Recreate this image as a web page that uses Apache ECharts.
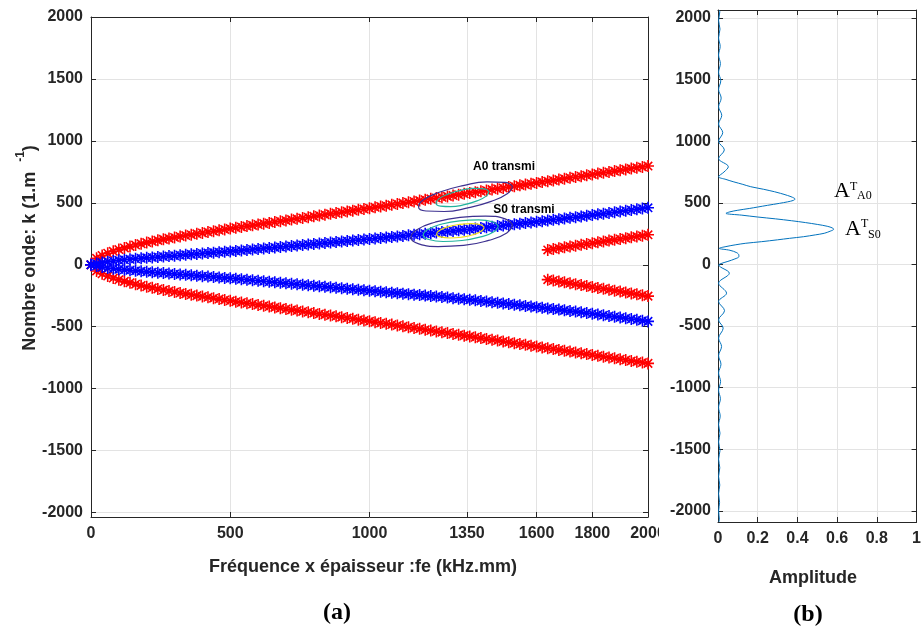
<!DOCTYPE html>
<html><head><meta charset="utf-8">
<script src="https://cdn.jsdelivr.net/npm/echarts@6/dist/echarts.min.js"></script>
<style>html,body{margin:0;padding:0;background:#fff}#c{width:924px;height:632px}</style>
</head><body><div id="c"></div>
<script>
// ---- data ----
const fx = [0,20,40,60,80,100,120,140,160,180,200,220,240,260,280,300,320,340,360,380,400,420,440,460,480,500,
520,540,560,580,600,620,640,660,680,700,720,740,760,780,800,820,840,860,880,900,920,940,960,980,1000,
1020,1040,1060,1080,1100,1120,1140,1160,1180,1200,1220,1240,1260,1280,1300,1320,1340,1360,1380,1400,1420,1440,1460,1480,1500,
1520,1540,1560,1580,1600,1620,1640,1660,1680,1700,1720,1740,1760,1780,1800,1820,1840,1860,1880,1900,1920,1940,1960,1980,2000];
const a0Up = [0,52,75,93,109,123,136,148,159,169,179,188,197,205,213,221,229,236,243,250,257,264,271,278,285,292,
299,305,312,318,325,332,338,345,351,358,365,371,378,384,391,398,404,411,417,424,431,437,444,450,457,
464,471,477,484,491,498,505,511,518,525,532,539,545,552,559,566,573,579,586,593,600,607,613,620,627,
634,641,647,654,661,668,675,681,688,695,702,709,715,722,729,736,743,749,756,763,770,777,783,790,797];
const a0Dn = [0,-50,-73,-91,-107,-121,-134,-146,-157,-167,-177,-186,-195,-204,-212,-220,-228,-235,-242,-249,-256,-263,-270,-277,-284,-291,
-298,-304,-311,-317,-324,-331,-337,-344,-350,-357,-364,-370,-377,-383,-390,-397,-403,-410,-416,-423,-430,-436,-443,-449,-456,
-463,-470,-476,-483,-490,-497,-504,-510,-517,-524,-531,-538,-544,-551,-558,-565,-572,-578,-585,-592,-599,-606,-612,-619,-626,
-633,-640,-646,-653,-660,-667,-674,-680,-687,-694,-701,-708,-714,-721,-728,-735,-742,-748,-755,-762,-769,-776,-782,-789,-796];
const s0Up = [0,10,18,25,31,36,40,44,48,52,56,59,63,66,70,73,77,80,84,87,91,94,98,101,105,108,
112,116,120,124,128,132,136,140,144,148,152,156,160,164,168,172,176,180,184,188,192,196,200,204,208,
212,216,220,225,229,233,238,242,246,251,255,260,264,269,273,278,283,287,292,297,302,307,312,317,322,
327,332,337,342,347,352,358,363,368,374,379,384,390,395,401,407,412,418,424,430,436,442,448,454,460];
const s0Dn = [0,-10,-19,-26,-32,-37,-41,-45,-49,-53,-57,-60,-64,-67,-71,-74,-78,-81,-85,-88,-92,-95,-99,-102,-106,-109,
-113,-117,-121,-125,-129,-133,-137,-141,-145,-149,-153,-157,-161,-165,-169,-173,-177,-181,-185,-189,-193,-197,-201,-205,-209,
-213,-217,-221,-225,-229,-233,-237,-241,-245,-249,-253,-257,-261,-265,-270,-274,-278,-283,-287,-292,-297,-302,-307,-312,-317,
-322,-327,-332,-337,-342,-347,-352,-357,-362,-368,-373,-378,-384,-390,-395,-401,-407,-413,-419,-425,-432,-438,-444,-451,-457];
const fxSeg = [1640,1660,1680,1700,1720,1740,1760,1780,1800,1820,1840,1860,1880,1900,1920,1940,1960,1980,2000];
const segUp = [120,127,134,141,147,154,161,168,174,181,188,195,201,208,215,222,228,235,242];
const segDn = [-120,-127,-135,-142,-150,-157,-164,-172,-179,-187,-194,-201,-209,-216,-223,-231,-238,-246,-253];

// contour lines (fe, k)
const cA0outer = [[1514,631],[1496,575],[1437,512],[1353,459],[1268,430],[1203,434],[1176,468],[1194,524],[1253,587],[1336,639],[1422,669],[1487,665]];
const cA0inner = [[1429,590],[1419,554],[1386,516],[1340,485],[1291,469],[1255,473],[1239,496],[1249,532],[1282,570],[1328,601],[1377,617],[1414,613]];
const cS0outer = [[1514,320],[1493,257],[1428,197],[1338,156],[1246,147],[1177,169],[1149,220],[1170,283],[1235,343],[1325,383],[1417,393],[1487,370]];
const cS0mid = [[1463,312],[1447,267],[1399,225],[1332,196],[1264,188],[1213,204],[1193,239],[1209,284],[1257,327],[1324,355],[1392,362],[1442,347]];
const cS0inner = [[1412,301],[1402,272],[1372,242],[1330,222],[1287,216],[1255,225],[1241,247],[1251,276],[1281,306],[1324,326],[1367,332],[1399,323]];

// amplitude profile (k, amplitude)
const ampK = [2065,2050,1980,1910,1840,1770,1700,1630,1560,1490,1420,1350,1280,1210,1140,1070,1000,930,860,793,750,712,690,670,650,631,610,590,577,560,545,531,520,508,496,480,466,455,440,427,415,400,385,370,355,340,325,310,295,285,270,253,240,225,212,200,185,172,160,145,131,115,95,75,63,45,25,10,-4,-71,-152,-233,-301,-375,-450,-517,-598,-666,-740,-810,-880,-950,-1020,-1090,-1160,-1230,-1300,-1370,-1440,-1510,-1580,-1650,-1720,-1790,-1860,-1930,-2000,-2070,-2090];
const ampVal = [0.006,0.009,0.003,0.010,0.003,0.011,0.003,0.012,0.003,0.014,0.003,0.016,0.003,0.019,0.003,0.024,0.003,0.032,0.003,0.052,0.030,0.003,0.040,0.080,0.125,0.165,0.230,0.285,0.315,0.350,0.375,0.388,0.380,0.350,0.310,0.250,0.200,0.160,0.100,0.060,0.040,0.120,0.200,0.290,0.370,0.440,0.500,0.550,0.578,0.582,0.565,0.535,0.490,0.430,0.360,0.300,0.220,0.140,0.090,0.040,0.006,0.060,0.095,0.105,0.105,0.085,0.050,0.020,0.004,0.057,0.003,0.043,0.003,0.033,0.003,0.026,0.003,0.018,0.003,0.015,0.003,0.013,0.003,0.012,0.003,0.011,0.003,0.010,0.003,0.010,0.003,0.009,0.003,0.009,0.003,0.008,0.003,0.007,0.004];

const xTicksA = [0,500,1000,1350,1600,1800,2000];
const yTicks = [-2000,-1500,-1000,-500,0,500,1000,1500,2000];

// ---- chart ----
const ink = '#262626';
const sans = 'Liberation Sans';
const star = 'path://M10,0L10,20M0,10L20,10M3,3L17,17M3,17L17,3';
const lbl = {color: ink, fontSize: 16, fontWeight: 'bold', fontFamily: sans, formatter: v => String(v)};
const grid = {color: '#e3e3e3', width: 1};

function axis(o) {
  const a = {
    type: 'value', gridIndex: o.g, min: o.min, max: o.max, position: o.pos,
    axisLine: {show: true, onZero: false, lineStyle: {color: ink, width: 1}},
    axisTick: {show: true, inside: true, length: 5, lineStyle: {color: ink, width: 1}},
    axisLabel: Object.assign({show: !!o.label, margin: o.margin || 8}, lbl),
    splitLine: {show: !!o.split, lineStyle: grid}
  };
  if (o.ticks) { a.axisTick.customValues = o.ticks; a.axisLabel.customValues = o.ticks; }
  if (o.interval) a.interval = o.interval;
  return a;
}
const zip = (xs, ys) => xs.map((x, i) => [x, ys[i]]);
const closed = pts => pts.concat([pts[0]]);

function stars(xs, ys, color) {
  return {type: 'scatter', xAxisIndex: 0, yAxisIndex: 0, data: zip(xs, ys), symbol: star, symbolSize: 12,
    itemStyle: {color: color, borderColor: color, borderWidth: 1.6, opacity: 1}, silent: true, animation: false};
}
function contour(pts, color) {
  return {type: 'line', xAxisIndex: 0, yAxisIndex: 0, data: closed(pts), smooth: 0.5, symbol: 'none',
    lineStyle: {color: color, width: 1.2}, z: 5, silent: true, animation: false};
}
const txt = (x, y, text, font, fill, align) => ({type: 'text', x: x, y: y, z: 50,
  style: {text: text, fill: fill || '#000', font: font, align: align || 'center', verticalAlign: 'middle',
    textAlign: align || 'center', textVerticalAlign: 'middle'}});

const chart = echarts.init(document.getElementById('c'), null, {renderer: 'canvas'});
chart.setOption({
  animation: false,
  backgroundColor: '#fff',
  grid: [
    {left: 91, top: 17, width: 557, height: 500},
    {left: 718, top: 10, width: 200, height: 512}
  ],
  xAxis: [
    axis({g: 0, min: 0, max: 2000, pos: 'bottom', ticks: xTicksA, label: true, split: true, margin: 9}),
    axis({g: 0, min: 0, max: 2000, pos: 'top', ticks: xTicksA}),
    axis({g: 1, min: 0, max: 1, pos: 'bottom', interval: 0.2, label: true, split: true, margin: 9}),
    axis({g: 1, min: 0, max: 1, pos: 'top', interval: 0.2})
  ],
  yAxis: [
    axis({g: 0, min: -2036, max: 2000, pos: 'left', ticks: yTicks, label: true, split: true, margin: 8}),
    axis({g: 0, min: -2036, max: 2000, pos: 'right', ticks: yTicks}),
    axis({g: 1, min: -2090, max: 2065, pos: 'left', ticks: yTicks, label: true, split: true, margin: 7}),
    axis({g: 1, min: -2090, max: 2065, pos: 'right', ticks: yTicks})
  ],
  series: [
    stars(fx, a0Up, '#ff0000'),
    stars(fx, a0Dn, '#ff0000'),
    stars(fxSeg, segUp, '#ff0000'),
    stars(fxSeg, segDn, '#ff0000'),
    stars(fx, s0Up, '#0000ff'),
    stars(fx, s0Dn, '#0000ff'),
    contour(cA0outer, '#3d3190'),
    contour(cA0inner, '#22b39e'),
    contour(cS0outer, '#3d3190'),
    contour(cS0mid, '#22b39e'),
    contour(cS0inner, '#eedd1a'),
    {type: 'line', xAxisIndex: 2, yAxisIndex: 2, data: zip(ampVal, ampK), smooth: 0.35, symbol: 'none',
      lineStyle: {color: '#0072BD', width: 1}, silent: true, animation: false}
  ],
  graphic: [
    {type: 'rect', shape: {x: 659, y: 524, width: 48, height: 24}, style: {fill: '#fff'}, z: 100},
    txt(504, 167, 'A0 transmi', 'bold 12px "Liberation Sans"'),
    txt(524, 210, 'S0 transmi', 'bold 12px "Liberation Sans"'),
    txt(363, 567, 'Fréquence x épaisseur :fe (kHz.mm)', 'bold 18px "Liberation Sans"', ink),
    {type: 'text', x: 27, y: 248, rotation: Math.PI / 2,
      style: {text: '{a|Nombre onde: k (1.m  }{s|-1}{a|)}', fill: ink, align: 'center', verticalAlign: 'middle', textAlign: 'center', textVerticalAlign: 'middle',
        rich: {a: {font: 'bold 18px "Liberation Sans"', fill: ink, lineHeight: 24, verticalAlign: 'bottom'},
               s: {font: 'bold 12px "Liberation Sans"', fill: ink, lineHeight: 24, verticalAlign: 'top'}}}},
    txt(813, 578, 'Amplitude', 'bold 18px "Liberation Sans"', ink),
    txt(337, 613, '(a)', 'bold 24px "Liberation Serif"'),
    txt(808, 615, '(b)', 'bold 24px "Liberation Serif"'),
    txt(834, 191, 'A', '22px "Liberation Serif"', '#000', 'left'),
    txt(850, 187, 'T', '12px "Liberation Serif"', '#000', 'left'),
    txt(857, 196, 'A0', '12px "Liberation Serif"', '#000', 'left'),
    txt(845, 229, 'A', '22px "Liberation Serif"', '#000', 'left'),
    txt(861, 224, 'T', '12px "Liberation Serif"', '#000', 'left'),
    txt(868, 235, 'S0', '12px "Liberation Serif"', '#000', 'left')
  ]
});
</script></body></html>
